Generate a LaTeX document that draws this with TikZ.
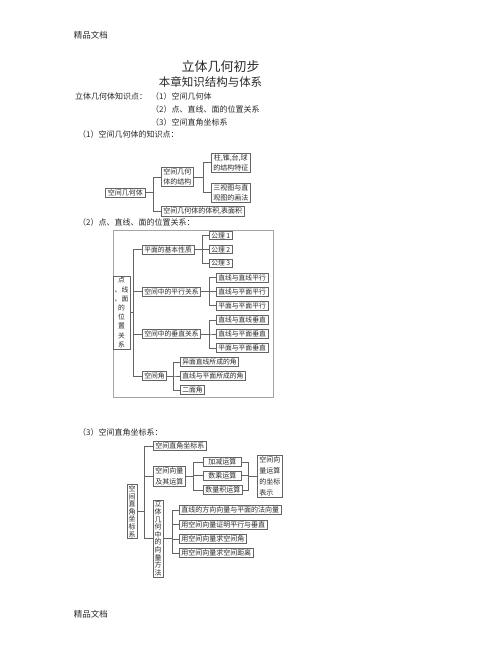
\documentclass[tikz,border=0pt]{standalone}
\usepackage{fontspec}
\setmainfont{Noto Sans CJK SC}
\usepackage{xcolor}
\usetikzlibrary{positioning,calc}
\definecolor{Ink}{RGB}{40,40,40}
\definecolor{Wire}{RGB}{100,100,100}
\definecolor{Frame}{RGB}{165,165,165}

\tikzset{
  plain/.style={inner sep=0pt, text=Ink},
  heading/.style={plain, anchor=west, font=\fontsize{8pt}{8pt}\selectfont},
  box/.style={draw=Wire, line width=0.5pt, inner xsep=2pt, inner ysep=1.2pt,
    anchor=west, align=center, text=Ink},
  boxA/.style={box, font=\fontsize{7pt}{10pt}\selectfont},
  boxB/.style={box, font=\fontsize{6.8pt}{9.2pt}\selectfont},
  boxC/.style={box, font=\fontsize{7pt}{7.6pt}\selectfont},
  wire/.style={draw=Wire, line width=0.5pt}
}

\begin{document}
\begin{tikzpicture}[x=1pt, y=-1pt]
    \useasboundingbox (0,0) rectangle (502,649);

    % page text
    \node[plain, font=\fontsize{8.5pt}{8.5pt}\selectfont] (hdr) at (91,35) {精品文档};
    \node[plain, font=\fontsize{13pt}{13pt}\selectfont] (title) at (220.5,67) {立体几何初步};
    \node[plain, font=\fontsize{11.5pt}{11.5pt}\selectfont] (subtitle) at (210.5,82.5) {本章知识结构与体系};
    \node[heading] (pts) at (75,96.5) {立体几何体知识点：};
    \node[heading] (pt1) at (151,96.5) {（1）空间几何体};
    \node[heading] (pt2) at (151,109) {（2）点、直线、面的位置关系};
    \node[heading] (pt3) at (151,122) {（3）空间直角坐标系};
    \node[heading] (sec1) at (78,134) {（1）空间几何体的知识点：};
    \node[heading] (sec2) at (78,222) {（2）点、直线、面的位置关系：};
    \node[heading] (sec3) at (78,432) {（3）空间直角坐标系：};
    \node[plain, font=\fontsize{8.5pt}{8.5pt}\selectfont] (ftr) at (91,614) {精品文档};

    % diagram 1
    \node[boxA, inner xsep=2.5pt] (geo) at (105,192.5) {空间几何体};
    \node[boxA] (geoS) at (161,177) {空间几何\\体的结构};
    \node[boxA] (geoS1) at (211,162.5) {柱,锥,台,球\\的结构特征};
    \node[boxA] (geoS2) at (211,192.5) {三视图与直\\观图的画法};
    \node[boxA] (geoV) at (161,211) {空间几何体的体积,表面积};
    \coordinate (brG) at (153,0);
    \coordinate (brGS) at (203,0);
    \foreach \c in {geoS,geoV}
        \draw[wire] (geo.east) -- (geo.east -| brG) |- (\c.west);
    \foreach \c in {geoS1,geoS2}
        \draw[wire] (geoS.east) -- (geoS.east -| brGS) |- (\c.west);

    % diagram 2
    \draw[draw=Frame, line width=0.5pt] (113,230) rectangle (273,397);
    \node[boxB, anchor=center, inner xsep=1.5pt] (pos) at (121.5,312.5)
        {点\\、线\\、面\\的\\位\\置\\关\\系};
    \node[boxB] (basic) at (142,249.5) {平面的基本性质};
    \node[boxB] (para) at (142,291.5) {空间中的平行关系};
    \node[boxB] (perp) at (142,334) {空间中的垂直关系};
    \node[boxB] (ang) at (142,376) {空间角};
    \node[boxB] (ax1) at (209,235.5) {公理 1};
    \node[boxB] (ax2) at (209,249.5) {公理 2};
    \node[boxB] (ax3) at (209,263) {公理 3};
    \node[boxB] (para1) at (216,277.5) {直线与直线平行};
    \node[boxB] (para2) at (216,291.5) {直线与平面平行};
    \node[boxB] (para3) at (216,305.5) {平面与平面平行};
    \node[boxB] (perp1) at (216,320) {直线与直线垂直};
    \node[boxB] (perp2) at (216,334) {直线与平面垂直};
    \node[boxB] (perp3) at (216,348) {平面与平面垂直};
    \node[boxB] (ang1) at (180,362) {异面直线所成的角};
    \node[boxB] (ang2) at (180,376) {直线与平面所成的角};
    \node[boxB] (ang3) at (180,390) {二面角};
    \coordinate (brP) at (133,0);
    \coordinate (brB) at (202,0);
    \coordinate (brPP) at (209,0);
    \coordinate (brA) at (173,0);
    \foreach \c in {basic,para,perp,ang}
        \draw[wire] (pos.east) -- (pos.east -| brP) |- (\c.west);
    \foreach \c in {ax1,ax2,ax3}
        \draw[wire] (basic.east) -- (basic.east -| brB) |- (\c.west);
    \foreach \c in {para1,para2,para3}
        \draw[wire] (para.east) -- (para.east -| brPP) |- (\c.west);
    \foreach \c in {perp1,perp2,perp3}
        \draw[wire] (perp.east) -- (perp.east -| brPP) |- (\c.west);
    \foreach \c in {ang1,ang2,ang3}
        \draw[wire] (ang.east) -- (ang.east -| brA) |- (\c.west);

    % diagram 3
    \node[boxC, anchor=center, inner xsep=1.5pt] (coord) at (132,511.5)
        {空\\间\\直\\角\\坐\\标\\系};
    \node[boxC] (sys) at (153,446) {空间直角坐标系};
    \node[boxC, font=\fontsize{7pt}{11pt}\selectfont] (vec) at (153,476) {空间向量\\及其运算};
    \node[boxC, anchor=center, inner xsep=1.5pt] (meth) at (158,538.5)
        {立\\体\\几\\何\\中\\的\\向\\量\\方\\法};
    \node[boxC, minimum width=38pt] (add) at (203,462) {加减运算};
    \node[boxC, minimum width=38pt] (mul) at (203,475.5) {数乘运算};
    \node[boxC, minimum width=38pt] (dot) at (203,490) {数量积运算};
    \node[boxC, align=left, font=\fontsize{7pt}{11pt}\selectfont] (rep) at (257,476)
        {空间向\\量运算\\的坐标\\表示};
    \node[boxC] (m1) at (179,510) {直线的方向向量与平面的法向量};
    \node[boxC] (m2) at (179,524.5) {用空间向量证明平行与垂直};
    \node[boxC] (m3) at (179,539) {用空间向量求空间角};
    \node[boxC] (m4) at (179,553) {用空间向量求空间距离};
    \coordinate (brC) at (144,0);
    \coordinate (brV) at (193,0);
    \coordinate (brR) at (248,0);
    \coordinate (brM) at (172,0);
    \foreach \c in {sys,vec,meth}
        \draw[wire] (coord.east) -- (coord.east -| brC) |- (\c.west);
    \foreach \c in {add,mul,dot}
        \draw[wire] (vec.east) -- (vec.east -| brV) |- (\c.west);
    \foreach \c in {add,mul,dot}
        \draw[wire] (\c.east) -- (\c.east -| brR) |- (rep.west);
    \foreach \c in {m1,m2,m3,m4}
        \draw[wire] (meth.east) -- (meth.east -| brM) |- (\c.west);
\end{tikzpicture}
\end{document}
